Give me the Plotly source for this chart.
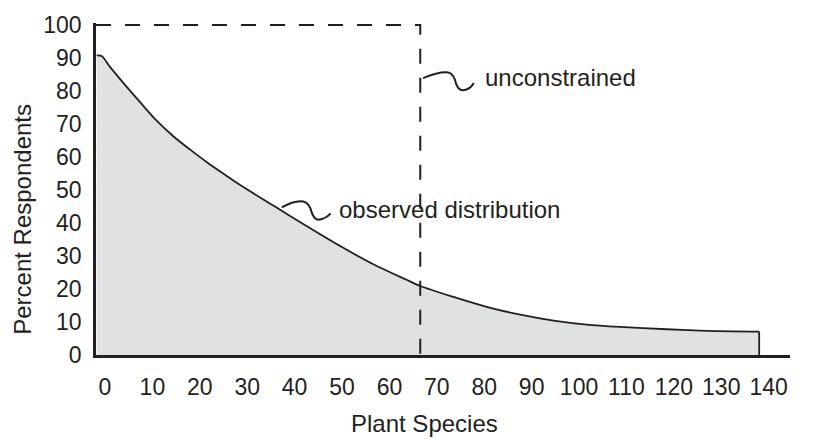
import plotly.graph_objects as go

# Observed distribution curve
species = [-1.75, -0.7, 1.05, 3.9, 7.4, 10.9, 14.4, 17.9, 21.5, 25.0, 28.5, 35.5, 42.6,
           49.6, 56.6, 63.6, 66.5, 73.5, 80.5, 87.6, 94.6, 101.6, 108.6,
           118.5, 125.5, 132.5, 138.0]
percent = [90.8, 90.6, 87.3, 82.4, 76.6, 71.0, 66.3, 62.3, 58.4, 54.9, 51.5, 45.3, 39.0,
           33.0, 27.5, 22.8, 20.9, 17.6, 14.6, 12.2, 10.4, 9.2, 8.5,
           7.8, 7.4, 7.15, 7.1]

# Unconstrained box limits
box_x_left = -1.9
box_x_right = 66.5
box_top = 100

x_ticks = list(range(0, 141, 10))
y_ticks = list(range(0, 101, 10))

INK = "#231f20"
FONT = "Liberation Sans, Arial, sans-serif"
FS = 23
FS_TXT = 24

fig = go.Figure()
fig.add_trace(go.Scatter(
    x=species, y=percent, mode="lines", fill="tozeroy",
    fillcolor="#e0e1e3", line=dict(color=INK, width=1.8, shape="spline", smoothing=0.8),
    showlegend=False, hoverinfo="skip"))
# closing right edge of the distribution
fig.add_trace(go.Scatter(
    x=[species[-1], species[-1]], y=[percent[-1], 0], mode="lines",
    line=dict(color=INK, width=1.8), showlegend=False, hoverinfo="skip"))

# dashed 'unconstrained' box
fig.add_shape(type="path",
              path=f"M {box_x_left},{box_top} L {box_x_right},{box_top} L {box_x_right},0",
              xref="x", yref="y", line=dict(color=INK, width=2, dash="15px,14px"))

# squiggle connectors
fig.add_shape(type="path",
              path="M 37.3,44.7 Q 40,46.9 41.8,46.5 Q 43.1,46.1 43.6,43.2 Q 44.1,41.0 45.1,41.0 Q 46.5,41.2 47.6,42.9",
              xref="x", yref="y", line=dict(color=INK, width=2))
fig.add_shape(type="path",
              path="M 67.1,83.9 Q 70.5,85.9 72.4,85.6 Q 73.6,85.3 74.1,82.0 Q 74.6,80.2 75.6,80.2 Q 77.0,80.4 77.8,82.4",
              xref="x", yref="y", line=dict(color=INK, width=2))

fig.add_annotation(x=79.7, y=84.2, xref="x", yref="y", text="unconstrained",
                   showarrow=False, xanchor="left", yanchor="middle",
                   font=dict(family=FONT, size=FS_TXT, color=INK))
fig.add_annotation(x=48.9, y=44.2, xref="x", yref="y", text="observed distribution",
                   showarrow=False, xanchor="left", yanchor="middle",
                   font=dict(family=FONT, size=FS_TXT, color=INK))

# axis titles
fig.add_annotation(x=67.3, y=-0.205, xref="x", yref="paper", text="Plant Species",
                   showarrow=False, xanchor="center", yanchor="middle",
                   font=dict(family=FONT, size=FS_TXT, color=INK))
fig.add_annotation(x=-0.106, y=41.1, xref="paper", yref="y", text="Percent Respondents",
                   showarrow=False, textangle=-90, xanchor="center", yanchor="middle",
                   font=dict(family=FONT, size=FS_TXT, color=INK))

fig.update_xaxes(range=[box_x_left, 144.5], tickvals=x_ticks, ticktext=[str(v) for v in x_ticks],
                 showgrid=False, zeroline=False, showline=True, linewidth=3, linecolor=INK,
                 ticks="", ticklabelstandoff=9,
                 tickfont=dict(family=FONT, size=FS, color=INK))
fig.update_yaxes(range=[0, 100.6], tickvals=y_ticks, ticktext=[str(v) for v in y_ticks],
                 showgrid=False, zeroline=False, showline=True, linewidth=2.5, linecolor=INK,
                 ticks="", ticklabelstandoff=7,
                 tickfont=dict(family=FONT, size=FS, color=INK))

fig.update_layout(width=814, height=439, margin=dict(l=96, r=24, t=19, b=84),
                  paper_bgcolor="white", plot_bgcolor="white", showlegend=False)

fig.write_html("out.html", config={"displayModeBar": False},
               post_script="document.body.style.margin='0px';document.body.style.overflow='hidden';")
